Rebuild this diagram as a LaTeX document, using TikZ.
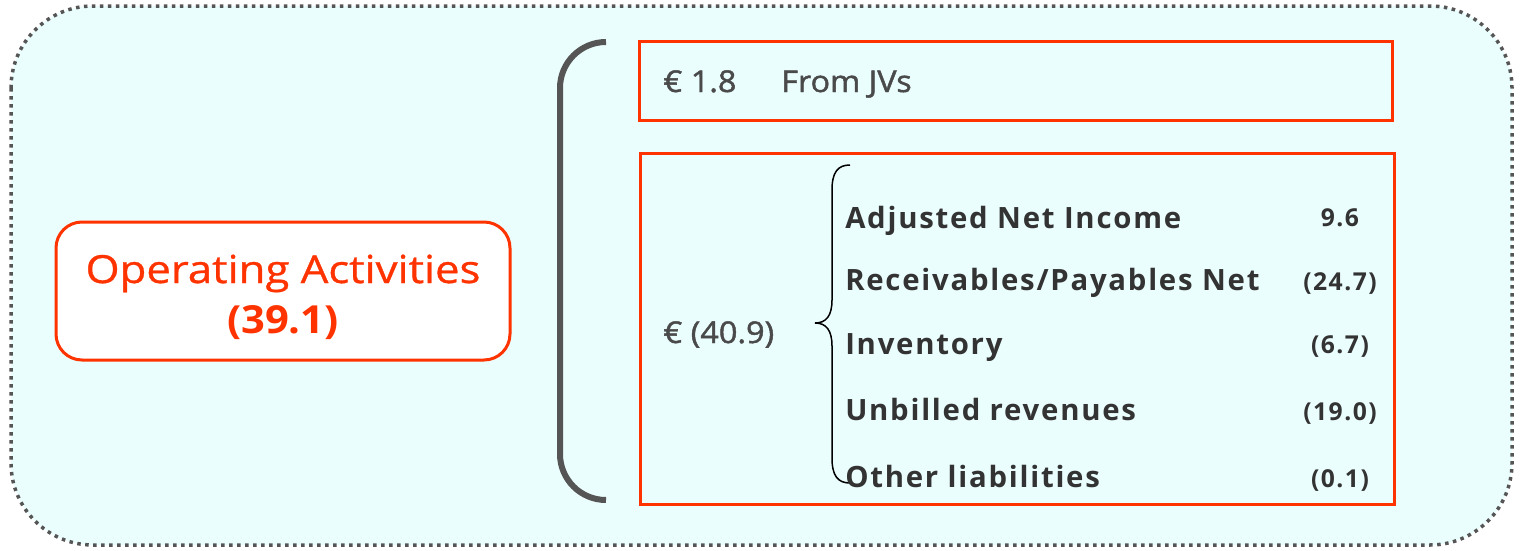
\documentclass[tikz,border=0pt]{standalone}
\usepackage{fontspec}
\setmainfont{Open Sans}
\newdimen\pxu \pxu=0.75pt
\definecolor{bgcyan}{HTML}{EBFEFE}
\definecolor{dotgray}{HTML}{555555}
\definecolor{redor}{HTML}{FF3300}
\definecolor{txtgray}{HTML}{4A4A4A}
\definecolor{itemgray}{HTML}{333333}
\tikzset{
  redbox/.style={draw=redor, line width=3\pxu, fill=none, inner sep=0pt},
  opbox/.style={draw=redor, line width=3\pxu, fill=white, rounded corners=26\pxu, inner sep=0pt},
  optext/.style={anchor=base, inner sep=0pt, text=redor, font=\fontsize{29}{35}\selectfont\addfontfeatures{FakeStretch=1.13,FakeBold=0.8}},
  opnum/.style={anchor=base, inner sep=0pt, text=redor, font=\fontsize{29}{35}\selectfont\bfseries\addfontfeatures{FakeStretch=1.08}},
  jvtext/.style={anchor=base west, inner sep=0pt, text=txtgray, font=\fontsize{22.5}{27}\selectfont\addfontfeatures{FakeStretch=1.08,FakeBold=1.5}},
  itemtext/.style={anchor=base west, inner sep=0pt, text=itemgray, font=\fontsize{22}{26}\selectfont\bfseries\addfontfeatures{LetterSpace=6}},
  numtext/.style={anchor=base, inner sep=0pt, text=itemgray, font=\fontsize{18.5}{22}\selectfont\bfseries\addfontfeatures{LetterSpace=6}},
  bracketline/.style={draw=dotgray, line width=6\pxu, rounded corners=46\pxu},
  braceline/.style={draw=black, line width=1.5\pxu},
}
\begin{document}
\begin{tikzpicture}[x=0.75pt, y=-0.75pt]
\useasboundingbox (0,0) rectangle (1520,550);
% outer background
\draw[fill=bgcyan, draw=dotgray, line width=3.5\pxu, dash pattern=on 3.5\pxu off 4.5\pxu, rounded corners=82\pxu] (11,6) rectangle (1512,545);
% left box
\node[opbox, minimum width=454\pxu, minimum height=138\pxu] (op) at (283,291) {};
\node[optext] (optitle) at (283,283) {Operating Activities};
\node[opnum] (opval) at (283,333) {(39.1)};
% big bracket
\coordinate (bt) at (606,42);
\coordinate (bb) at (606,500);
\draw[bracketline] (bt) -- (560,42) -- (560,500) -- (bb);
% JV box
\node[redbox, minimum width=753\pxu, minimum height=79\pxu] (jv) at (1016,80.5) {};
\node[jvtext] (jvval) at (663,92) {€ 1.8};
\node[jvtext] (jvlab) at (781,92) {From JVs};
% lower box
\node[redbox, minimum width=754\pxu, minimum height=351\pxu] (wc) at (1017.5,328.5) {};
\node[jvtext] (wcval) at (663,343) {€ (40.9)};
% small brace
\draw[braceline] (850,165) .. controls (838,165) and (832,172) .. (832,190) -- (832,300) .. controls (832,316) and (826,323) .. (815,323) .. controls (826,323) and (832,330) .. (832,346) -- (832,458) .. controls (832,476) and (838,483) .. (850,483);
% items
\node[itemtext] (i1) at (845,228) {Adjusted Net Income};
\node[itemtext] (i2) at (845,290) {Receivables/Payables Net};
\node[itemtext] (i3) at (845,354) {Inventory};
\node[itemtext] (i4) at (845,420) {Unbilled revenues};
\node[itemtext] (i5) at (845,487) {Other liabilities};
% numbers
\node[numtext] (n1) at (1340,226) {9.6};
\node[numtext] (n2) at (1340,290) {(24.7)};
\node[numtext] (n3) at (1340,353) {(6.7)};
\node[numtext] (n4) at (1340,420) {(19.0)};
\node[numtext] (n5) at (1340,487) {(0.1)};
\end{tikzpicture}
\end{document}
